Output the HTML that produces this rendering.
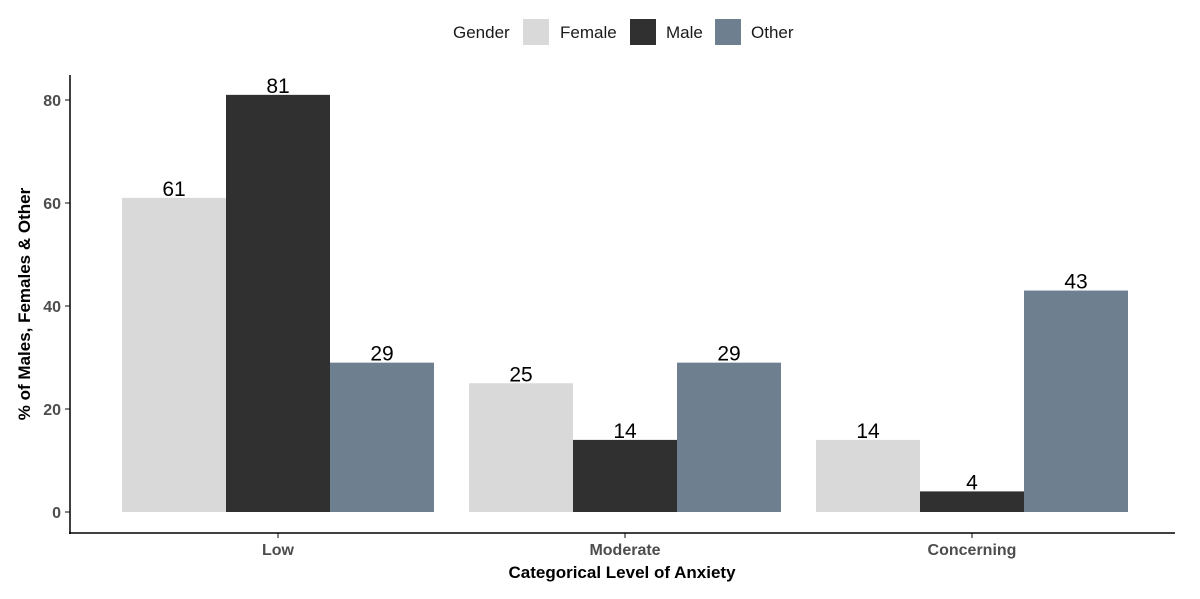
<!DOCTYPE html>
<html><head><meta charset="utf-8"><style>
body{margin:0;background:#fff;}
svg{display:block;font-family:"Liberation Sans",Arial,sans-serif;}
</style></head><body>
<svg id="chart" width="1200" height="599">
<g font-size="17" fill="#1a1a1a">
<text x="453" y="38">Gender</text>
<rect x="523" y="19" width="26" height="26" fill="#d9d9d9"/>
<text x="560" y="38">Female</text>
<rect x="630" y="19" width="26" height="26" fill="#303030"/>
<text x="666" y="38">Male</text>
<rect x="715" y="19" width="26" height="26" fill="#6e7f8f"/>
<text x="751" y="38">Other</text>
</g>
<g id="plot"></g>
<line x1="70" y1="75" x2="70" y2="534" stroke="#000" stroke-width="1.5"/>
<line x1="69" y1="533" x2="1175" y2="533" stroke="#000" stroke-width="1.5"/>
<text x="30" y="304" transform="rotate(-90 30 304)" text-anchor="middle" font-size="17" font-weight="bold">% of Males, Females &amp; Other</text>
<text x="622" y="578" text-anchor="middle" font-size="17" font-weight="bold">Categorical Level of Anxiety</text>
</svg>
<script>
const categories=["Low","Moderate","Concerning"];
const seriesNames=["Female","Male","Other"];
const female=[61,25,14];
const male=[81,14,4];
const other=[29,29,43];
const yTicks=[0,20,40,60,80];
const colors=["#d9d9d9","#303030","#6e7f8f"];
const NS="http://www.w3.org/2000/svg";
const g=document.getElementById('plot');
function y(v){return 512-v*5.15;}
function xc(i){return 278+i*347;}
const bw=104;
function mk(t,a){const e=document.createElementNS(NS,t);for(const k in a)e.setAttribute(k,a[k]);g.appendChild(e);return e;}
yTicks.forEach(t=>{
 const l=mk('line',{x1:65,x2:70,y1:y(t),y2:y(t),stroke:'#333','stroke-width':1.2});
 
 
 const tx=mk('text',{x:61,y:y(t)+6,'text-anchor':'end','font-size':16,'font-weight':'bold',fill:'#4d4d4d'});
 tx.textContent=t;
 
 
});
const series=[female,male,other];
categories.forEach((c,i)=>{
 const l=mk('line',{x1:xc(i),x2:xc(i),y1:533,y2:538,stroke:'#333','stroke-width':1.2});
 
 
 const tx=mk('text',{x:xc(i),y:555,'text-anchor':'middle','font-size':16,'font-weight':'bold',fill:'#4d4d4d'});
 tx.textContent=c;
 
 
 series.forEach((s,j)=>{
  const x0=xc(i)-1.5*bw+j*bw;
  const r=mk('rect',{x:x0,y:y(s[i]),width:bw,height:y(0)-y(s[i]),fill:colors[j]});
  
  
  const v=mk('text',{x:x0+bw/2,y:y(s[i])-2,'text-anchor':'middle','font-size':21,fill:'#000'});
  v.textContent=s[i];
  
  
 });
});
</script>
</body></html>
